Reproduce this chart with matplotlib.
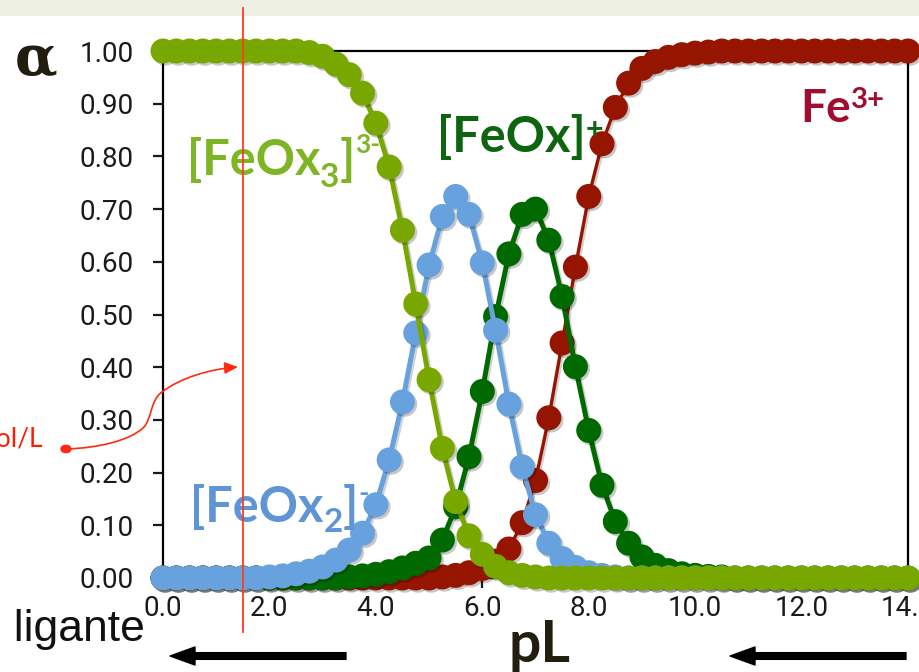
import matplotlib
matplotlib.use("Agg")
import matplotlib.pyplot as plt
import matplotlib.patheffects as pe
import matplotlib.transforms as mtrans
from matplotlib.patches import FancyArrowPatch, Rectangle, Circle
from matplotlib.path import Path
from matplotlib.lines import Line2D
from matplotlib import font_manager as fm

# ---- data: distribution fractions of the Fe(III)/oxalate species vs pL ----
pL = [0.00, 0.25, 0.50, 0.75, 1.00, 1.25, 1.50, 1.75, 2.00, 2.25,
      2.50, 2.75, 3.00, 3.25, 3.50, 3.75, 4.00, 4.25, 4.50, 4.75,
      5.00, 5.25, 5.50, 5.75, 6.00, 6.25, 6.50, 6.75, 7.00, 7.25,
      7.50, 7.75, 8.00, 8.25, 8.50, 8.75, 9.00, 9.25, 9.50, 9.75,
      10.00, 10.25, 10.50, 10.75, 11.00, 11.25, 11.50, 11.75, 12.00, 12.25,
      12.50, 12.75, 13.00, 13.25, 13.50, 13.75, 14.00]

alpha_fe = [0.0] * 21 + [0.002, 0.005, 0.010, 0.018, 0.032, 0.055, 0.105,
                         0.185, 0.304, 0.446, 0.590, 0.724, 0.824, 0.893,
                         0.939, 0.967, 0.980, 0.988, 0.993, 0.996, 0.998] + [1.0] * 15

alpha_feox = [0.0] * 14 + [0.002, 0.004, 0.007, 0.012, 0.019, 0.028, 0.038,
                           0.072, 0.135, 0.230, 0.354, 0.496, 0.615, 0.690,
                           0.700, 0.641, 0.534, 0.401, 0.280, 0.176, 0.107,
                           0.066, 0.040, 0.024, 0.014, 0.008, 0.005, 0.003,
                           0.002] + [0.0] * 14

alpha_feox2 = [0.0] * 8 + [0.002, 0.004, 0.008, 0.013, 0.021, 0.034, 0.053,
                           0.085, 0.139, 0.224, 0.334, 0.465, 0.594, 0.686,
                           0.724, 0.690, 0.598, 0.470, 0.330, 0.211, 0.120,
                           0.066, 0.037, 0.020, 0.010, 0.005, 0.002] + [0.0] * 22

alpha_feox3 = [1.0] * 11 + [0.997, 0.990, 0.975, 0.955, 0.920, 0.863, 0.780,
                            0.660, 0.520, 0.376, 0.246, 0.145, 0.080, 0.045,
                            0.022, 0.010, 0.005, 0.002] + [0.0] * 28

x_ticks = [0, 2, 4, 6, 8, 10, 12, 14]
x_tick_labels = ["0.0", "2.0", "4.0", "6.0", "8.0", "10.0", "12.0", "14.0"]
y_ticks = [0.0, 0.1, 0.2, 0.3, 0.4, 0.5, 0.6, 0.7, 0.8, 0.9, 1.0]
y_tick_labels = ["0.00", "0.10", "0.20", "0.30", "0.40", "0.50",
                 "0.60", "0.70", "0.80", "0.90", "1.00"]

pL_marked = 1.5  # ligand level highlighted by the vertical guide

# ---- fonts ----
names = {f.name for f in fm.fontManager.ttflist}
plt.rcParams["font.family"] = ["Roboto", "DejaVu Sans"]

if "Liberation Sans Narrow" in names:
    narrow = dict(family="Liberation Sans Narrow", size=39)
else:
    narrow = dict(family="Liberation Sans", size=32)

W, H = 919, 672
fig = plt.figure(figsize=(W / 100, H / 100), dpi=100)
renderer = fig.canvas.get_renderer()


def fx(px):
    return px / W


def fy(py):
    return 1 - py / H


# light header strip
fig.add_artist(Rectangle((0, fy(16)), 1, 1 - fy(16), transform=fig.transFigure,
                         facecolor="#ECEFE2", edgecolor="none", zorder=-1))

ax = fig.add_axes([fx(163), fy(578), fx(908) - fx(163), fy(51) - fy(578)])
ax.set_xlim(0, 14)
ax.set_ylim(0, 1)
ax.set_axisbelow(True)
for s in ax.spines.values():
    s.set_linewidth(1.6)
    s.set_color("black")
    s.set_zorder(1)

line_shadow = [pe.SimpleLineShadow(offset=(1.4, -1.4), shadow_color="black", alpha=0.18), pe.Normal()]
dot_shadow = [pe.SimplePatchShadow(offset=(1.6, -1.6), shadow_rgbFace="black", alpha=0.22), pe.Normal()]

series = [
    (alpha_fe, "#951500", 2.4, 3),
    (alpha_feox, "#006A00", 3.6, 4),
    (alpha_feox2, "#67A2DE", 3.6, 5),
    (alpha_feox3, "#78A800", 3.6, 6),
]
for vals, col, lw, z in series:
    ax.plot(pL, vals, "-", color=col, lw=lw, zorder=z, clip_on=False,
            path_effects=line_shadow)
    ax.plot(pL, vals, "o", color=col, ms=18, mew=0, zorder=z + 0.5,
            clip_on=False, path_effects=dot_shadow)

ax.set_xticks(x_ticks)
ax.set_xticklabels(x_tick_labels)
ax.set_yticks(y_ticks)
ax.set_yticklabels(y_tick_labels)
ax.tick_params(axis="y", direction="out", length=7, width=1.6, pad=14,
               labelsize=20, colors="#1a1a1a")
ax.tick_params(axis="x", direction="out", length=7, width=1.6, pad=5,
               labelsize=20, colors="#1a1a1a")


def chem_label(x_px, y_px, parts, color):
    """Write a formula piece by piece: (text, size, baseline shift in px)."""
    x = x_px
    for text, size, dy in parts:
        t = fig.text(fx(x), fy(y_px + dy), text, family="Lato", weight="bold",
                     fontsize=size, color=color, ha="left", va="baseline")
        x += t.get_window_extent(renderer).width


chem_label(187, 175, [("[FeOx", 35, 0), ("3", 24, 12), ("]", 35, 0), ("3-", 19, -22)], "#7EB524")
chem_label(437, 152, [("[FeOx]", 35, 0), ("+", 22, -13)], "#0E6510")
chem_label(800, 122, [("Fe", 33, 0), ("3+", 21, -14)], "#A00D2E")
chem_label(190, 522, [("[FeOx", 35, 0), ("2", 24, 10), ("]", 35, 0), ("-", 20, -20)], "#5F95D7")

# axis captions
fig.text(fx(15), fy(75), "α", family="DejaVu Serif", weight="bold", fontsize=40,
         color="#221E0F", ha="left", va="baseline")
fig.text(fx(540), fy(662), "pL", family="Lato", weight="bold", fontsize=41,
         color="#231F10", ha="center", va="baseline")
fig.text(fx(145), fy(641), "conc. ligante", color="#111111", ha="right",
         va="baseline", **narrow)

# left-pointing arrows under the axis
for x_tail, x_tip in [(346, 170), (906, 730)]:
    fig.add_artist(FancyArrowPatch((fx(x_tail), fy(656)), (fx(x_tip), fy(656)),
                                   transform=fig.transFigure,
                                   arrowstyle="simple,head_length=18,head_width=13,tail_width=4.8",
                                   mutation_scale=1, shrinkA=0, shrinkB=0,
                                   color="black", zorder=5))

# vertical guide at the highlighted pL
guide_tr = mtrans.blended_transform_factory(ax.transData, fig.transFigure)
fig.add_artist(Line2D([pL_marked, pL_marked], [fy(632), fy(8)], transform=guide_tr,
                      color="#FF3B1F", lw=1.3, zorder=10))

# red callout with curved arrow
fig.text(fx(43), fy(446), "mol/L", family="Lato", fontsize=19, color="#FF1A00",
         ha="right", va="baseline")
fig.add_artist(Circle((fx(66), fy(449)), 5 / W, transform=fig.transFigure,
                      color="#FF2A10", zorder=10))
callout = Path([(fx(66), fy(449)), (fx(100), fy(448)), (fx(130), fy(440)), (fx(143), fy(428)),
                (fx(152), fy(420)), (fx(150), fy(400)), (fx(162), fy(392)),
                (fx(180), fy(378)), (fx(210), fy(369)), (fx(238), fy(367))],
               [Path.MOVETO, Path.CURVE4, Path.CURVE4, Path.CURVE4,
                Path.CURVE4, Path.CURVE4, Path.CURVE4,
                Path.CURVE4, Path.CURVE4, Path.CURVE4])
fig.add_artist(FancyArrowPatch(path=callout, transform=fig.transFigure,
                               arrowstyle="-|>,head_length=8,head_width=3.5",
                               mutation_scale=1, color="#FF2A10", lw=1.2, zorder=10))

fig.savefig("out.png", dpi=100)
